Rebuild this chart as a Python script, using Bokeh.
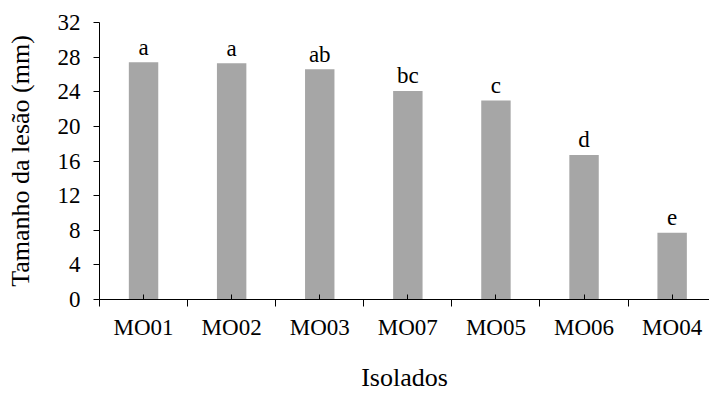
from bokeh.plotting import figure
from bokeh.models import ColumnDataSource, FixedTicker, Range1d
from bokeh.core.properties import value
from bokeh.embed import file_html
from bokeh.resources import INLINE

# Lesion size per isolate, with significance letters
isolados = ["MO01", "MO02", "MO03", "MO07", "MO05", "MO06", "MO04"]
tamanho = [27.4, 27.3, 26.6, 24.1, 23.0, 16.7, 7.7]
letras = ["a", "a", "ab", "bc", "c", "d", "e"]
y_ticks = [0, 4, 8, 12, 16, 20, 24, 28, 32]

FONT = "Liberation Serif"
FS_TICK = "23px"
FS_TITLE = "26px"

pos = list(range(1, len(isolados) + 1))
src = ColumnDataSource(dict(x=pos, top=tamanho, lab=letras))

p = figure(width=709, height=394, output_backend="svg", toolbar_location=None,
           x_range=Range1d(0.5, 7.424), y_range=Range1d(0, 32),
           min_border_left=99, min_border_right=0, min_border_top=22,
           min_border_bottom=94)
p.outline_line_color = None
p.grid.visible = False
p.background_fill_color = "white"
p.border_fill_color = "white"

p.vbar(x="x", top="top", width=0.334, bottom=0, source=src,
       fill_color="#a6a6a6", line_color=None)

p.text(x="x", y="top", text="lab", source=src, text_align="center",
       text_baseline="alphabetic", y_offset=-15,
       text_font=value(FONT), text_font_size=FS_TICK, text_color="black")

# x axis: labels at category centres, boundary marks below the line
xa = p.xaxis[0]
xa.ticker = FixedTicker(ticks=pos, minor_ticks=[i + 0.5 for i in range(0, len(isolados) + 1)])
xa.major_label_overrides = {i: n for i, n in zip(pos, isolados)}
xa.major_tick_in = 5
xa.major_tick_out = 0
xa.minor_tick_in = 0
xa.minor_tick_out = 7
xa.major_label_standoff = 8
xa.axis_label = "Isolados"
xa.axis_label_standoff = 20

ya = p.yaxis[0]
ya.ticker = FixedTicker(ticks=y_ticks, minor_ticks=[])
ya.major_tick_in = 0
ya.major_tick_out = 6
ya.minor_tick_in = 0
ya.minor_tick_out = 0
ya.major_label_standoff = 13
ya.axis_label = "Tamanho da lesão (mm)"
ya.axis_label_standoff = 20

for ax in (xa, ya):
    ax.axis_line_color = "black"
    ax.axis_line_width = 1
    ax.major_tick_line_color = "black"
    ax.minor_tick_line_color = "black"
    ax.major_label_text_font = FONT
    ax.major_label_text_font_size = FS_TICK
    ax.major_label_text_color = "black"
    ax.axis_label_text_font = FONT
    ax.axis_label_text_font_size = FS_TITLE
    ax.axis_label_text_font_style = "normal"
    ax.axis_label_text_color = "black"

open("out.html", "w").write(file_html(p, INLINE))
